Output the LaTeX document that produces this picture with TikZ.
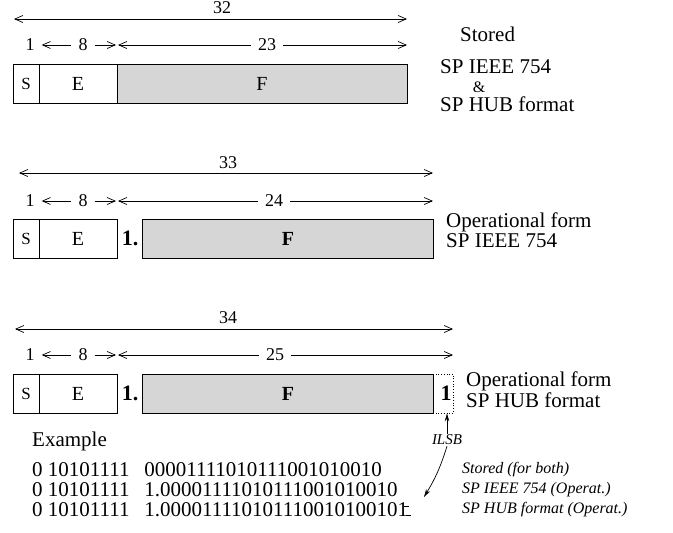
\documentclass[tikz,border=0pt]{standalone}
\usepackage{fontspec}
\setmainfont{Liberation Serif}
\usetikzlibrary{arrows.meta}

\begin{document}
\begin{tikzpicture}[x=1pt,y=-1pt]
  \tikzset{
    champ/.style={draw, line width=0.8pt, inner sep=0pt, minimum height=39pt, font=\fontsize{20}{20}\selectfont},
    gris/.style={champ, fill=black!16},
    nb/.style={inner sep=7pt, font=\fontsize{18}{18}\selectfont},
    cote/.style={line width=0.7pt, >={Straight Barb[length=8pt,width=7pt]}},
    fleche/.style={line width=0.7pt, -{Stealth[length=8pt,width=4.5pt]}},
    lbl/.style={anchor=west, inner sep=0pt, font=\fontsize{21}{21}\selectfont},
    ital/.style={anchor=west, inner sep=0pt, text height=11pt, text depth=2pt, font=\fontsize{16}{16}\selectfont\itshape},
    bits/.style={anchor=west, inner sep=0pt, text height=14pt, text depth=0pt, font=\fontsize{21}{21}\selectfont},
  }
  \useasboundingbox (0,0) rectangle (673,533);

  % stored
  \node[champ, minimum width=26pt, font=\fontsize{17}{17}\selectfont] (S1) at (26,83.5) {S};
  \node[champ, minimum width=78pt] (E1) at (78,83.5) {E};
  \node[gris, minimum width=290pt] (F1) at (262,83.5) {F};
  \node[nb] (tot1) at (222,8) {32};
  \coordinate (g1) at (14,19);
  \coordinate (d1) at (407,19);
  \draw[cote,<->] (g1) -- (d1);
  \node[nb] (un1) at (30,45) {1};
  \node[nb] (huit1) at (83,45) {8};
  \node[nb] (m1) at (267,45) {23};
  \coordinate (b1) at (116,45);
  \coordinate (c1) at (118,45);
  \coordinate (e1) at (407,45);
  \draw[cote,<-] (un1) -- (huit1);
  \draw[cote,->] (huit1) -- (b1);
  \draw[cote,<-] (c1) -- (m1);
  \draw[cote,->] (m1) -- (e1);
  \node[lbl] (st1) at (460,34) {Stored};
  \node[lbl] (ie1) at (440,67) {SP IEEE 754};
  \node[inner sep=0pt, font=\fontsize{16}{16}\selectfont] (et1) at (479,87) {\&};
  \node[lbl] (hu1) at (440,104) {SP HUB format};

  % operational IEEE
  \node[champ, minimum width=26pt, font=\fontsize{17}{17}\selectfont] (S2) at (26,238.5) {S};
  \node[champ, minimum width=78pt] (E2) at (78,238.5) {E};
  \node[inner sep=0pt, font=\fontsize{22}{22}\selectfont\bfseries] (h2) at (130,238.5) {1.};
  \node[gris, minimum width=291pt, font=\fontsize{20}{20}\selectfont\bfseries] (F2) at (288,238.5) {F};
  \node[nb] (tot2) at (228,163) {33};
  \coordinate (g2) at (19,173);
  \coordinate (d2) at (433,173);
  \draw[cote,<->] (g2) -- (d2);
  \node[nb] (un2) at (30,201) {1};
  \node[nb] (huit2) at (83,201) {8};
  \node[nb] (m2) at (274,201) {24};
  \coordinate (b2) at (116,201);
  \coordinate (c2) at (118,201);
  \coordinate (e2) at (433,201);
  \draw[cote,<-] (un2) -- (huit2);
  \draw[cote,->] (huit2) -- (b2);
  \draw[cote,<-] (c2) -- (m2);
  \draw[cote,->] (m2) -- (e2);
  \node[lbl] (op2) at (446,222) {Operational form};
  \node[lbl] (ie2) at (446,241) {SP IEEE 754};

  % operational HUB
  \node[draw, dotted, line width=0.7pt, minimum width=20pt, minimum height=39pt, inner sep=0pt] (lsb3) at (443,393.5) {};
  \node[champ, minimum width=26pt, font=\fontsize{17}{17}\selectfont] (S3) at (26,393.5) {S};
  \node[champ, minimum width=78pt] (E3) at (78,393.5) {E};
  \node[inner sep=0pt, font=\fontsize{22}{22}\selectfont\bfseries] (h3) at (130,393.5) {1.};
  \node[gris, minimum width=291pt, font=\fontsize{20}{20}\selectfont\bfseries] (F3) at (288,393.5) {F};
  \node[inner sep=0pt, font=\fontsize{22}{22}\selectfont\bfseries] (i3) at (446,393.5) {1};
  \node[nb] (tot3) at (228,318) {34};
  \coordinate (g3) at (15,329);
  \coordinate (d3) at (453,329);
  \draw[cote,<->] (g3) -- (d3);
  \node[nb] (un3) at (30,355) {1};
  \node[nb] (huit3) at (83,355) {8};
  \node[nb] (m3) at (275,355) {25};
  \coordinate (b3) at (116,355);
  \coordinate (c3) at (118,355);
  \coordinate (e3) at (453,355);
  \draw[cote,<-] (un3) -- (huit3);
  \draw[cote,->] (huit3) -- (b3);
  \draw[cote,<-] (c3) -- (m3);
  \draw[cote,->] (m3) -- (e3);
  \node[lbl] (op3) at (466,381) {Operational form};
  \node[lbl] (hu3) at (466,400) {SP HUB format};

  % example
  \node[inner sep=1pt, font=\fontsize{15}{15}\selectfont\itshape] (ilsb) at (447,440) {ILSB};
  \draw[fleche] (ilsb.north) -- (ilsb.north |- lsb3.south);
  \coordinate (pt) at (424,497);
  \draw[fleche] (ilsb.south) to[bend left=7] (pt);
  \node[lbl] (ex) at (32,441) {Example};
  \node[bits] (ex1) at (32,469) {0 10101111\hspace{0.7em}00001111010111001010010};
  \node[bits] (ex2) at (32,489) {0 10101111\hspace{0.7em}1.00001111010111001010010};
  \node[bits] (ex3) at (32,509) {0 10101111\hspace{0.7em}1.000011110101110010100101};
  \draw[line width=0.6pt] ([xshift=-2pt,yshift=1pt]ex3.base east) -- ++(5,0);
  \draw[line width=0.6pt] ([xshift=-4pt,yshift=10pt]ex3.base east) -- ++(5,0);
  \node[ital] (r1) at (462,469) {Stored (for both)};
  \node[ital] (r2) at (462,489) {SP IEEE 754 (Operat.)};
  \node[ital] (r3) at (462,509) {SP HUB format (Operat.)};
\end{tikzpicture}
\end{document}
